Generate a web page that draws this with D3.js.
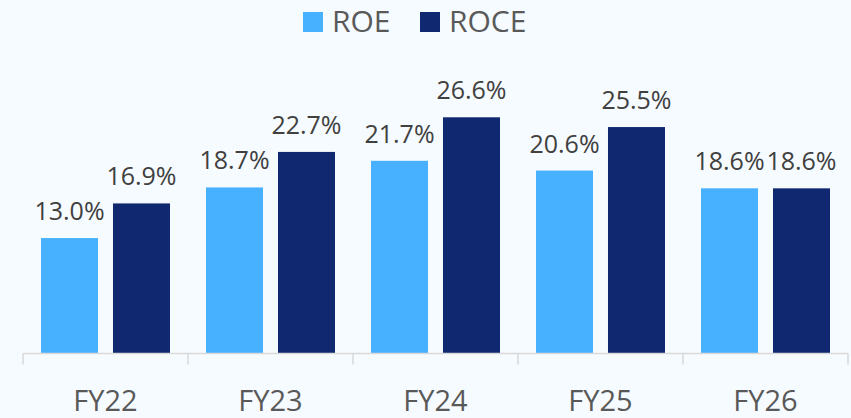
<!DOCTYPE html>
<meta charset="utf-8">
<style type="text/css">
body { margin: 0; background: #f6fbff; }
svg { display: block; font-family: "Open Sans", sans-serif; }
.val { fill: #404040; font-size: 25px; text-anchor: middle; }
.cat { fill: #595959; font-size: 29px; text-anchor: middle; }
.leg { fill: #595959; font-size: 30px; }
</style>
<body>
</body>

<script src="https://d3js.org/d3.v7.min.js"></script>
<script>

var categories = ["FY22", "FY23", "FY24", "FY25", "FY26"];
var seriesNames = ["ROE", "ROCE"];
var roe = [13.0, 18.7, 21.7, 20.6, 18.6];
var roce = [16.9, 22.7, 26.6, 25.5, 18.6];
var colors = ["#47b0ff", "#0f286f"];

var width = 851, height = 418;
var base = 353.5;

var data = categories.map(function(c, i) {
  return { cat: c, values: [roe[i], roce[i]] };
});

var svg = d3.select("body").append("svg")
    .attr("width", width)
    .attr("height", height);

var x0 = d3.scaleBand()
    .domain(categories)
    .range([23, 848]);

var x1 = d3.scaleBand()
    .domain(seriesNames)
    .range([0, x0.bandwidth()])
    .paddingInner(0.208)
    .paddingOuter(0.25);

var y = d3.scaleLinear()
    .domain([0, 30])
    .range([base, base - 30 * 8.88]);

var color = d3.scaleOrdinal().domain(seriesNames).range(colors);

var groups = svg.selectAll(".grp")
    .data(data)
  .enter().append("g")
    .attr("class", "grp")
    .attr("transform", function(d) { return "translate(" + x0(d.cat) + ",0)"; });

var items = groups.selectAll(".item")
    .data(function(d) { return d.values.map(function(v, i) { return { key: seriesNames[i], v: v }; }); })
  .enter().append("g");

items.append("rect")
    .attr("x", function(d) { return x1(d.key); })
    .attr("y", function(d) { return y(d.v); })
    .attr("width", x1.bandwidth())
    .attr("height", function(d) { return base - y(d.v); })
    .attr("fill", function(d) { return color(d.key); });

items.append("text")
    .attr("class", "val")
    .attr("x", function(d) { return x1(d.key) + x1.bandwidth() / 2; })
    .attr("y", function(d) { return y(d.v) - 18; })
    .text(function(d) { return d.v.toFixed(1) + "%"; });

// x axis with ticks at band edges
var axis = svg.append("g");
axis.append("line")
    .attr("x1", x0.range()[0]).attr("x2", x0.range()[1])
    .attr("y1", base).attr("y2", base)
    .attr("stroke", "#d9d9d9").attr("stroke-width", 1.5);

var edges = categories.map(function(c) { return x0(c); }).concat([x0.range()[1]]);
axis.selectAll(".tk")
    .data(edges)
  .enter().append("line")
    .attr("x1", function(d) { return d; }).attr("x2", function(d) { return d; })
    .attr("y1", base).attr("y2", base + 11)
    .attr("stroke", "#d9d9d9").attr("stroke-width", 1.5);

axis.selectAll(".cat")
    .data(categories)
  .enter().append("text")
    .attr("class", "cat")
    .attr("x", function(d) { return x0(d) + x0.bandwidth() / 2; })
    .attr("y", 411)
    .text(function(d) { return d; });

// legend
var legX = [303, 420];
var leg = svg.selectAll(".legItem")
    .data(seriesNames)
  .enter().append("g")
    .attr("transform", function(d, i) { return "translate(" + legX[i] + ",0)"; });

leg.append("rect")
    .attr("x", 0).attr("y", 12)
    .attr("width", 20).attr("height", 20)
    .attr("fill", function(d) { return color(d); });

leg.append("text")
    .attr("class", "leg")
    .attr("x", 29).attr("y", 32)
    .text(function(d) { return d; });

</script>
